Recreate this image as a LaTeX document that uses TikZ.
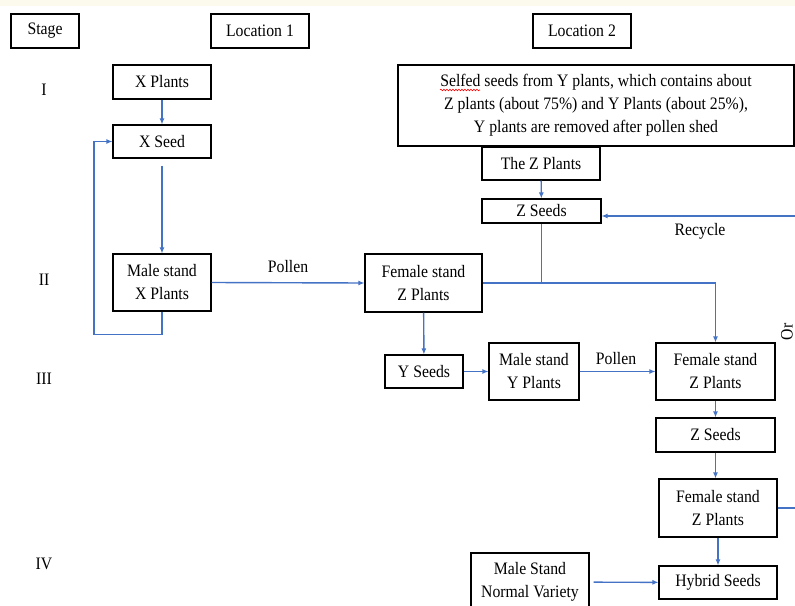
\documentclass[tikz,border=0pt]{standalone}
\usepackage{fontspec}
\setmainfont{Liberation Serif}[FakeStretch=0.9]
\usetikzlibrary{arrows.meta,decorations.pathmorphing}
\definecolor{flowblue}{RGB}{68,114,196}
\definecolor{topband}{RGB}{252,250,236}

\begin{document}
\begin{tikzpicture}[x=1pt, y=-1pt,
    every node/.style={font=\fontsize{17.5}{23}\selectfont},
    box/.style={draw, line width=1.1pt, inner sep=0pt, align=center},
    flow/.style={draw=flowblue, line width=1.4pt, -{Latex[length=6pt,width=5pt]}},
    link/.style={draw=flowblue, line width=1.4pt}]
  \clip (0,0) rectangle (795,605);
  % top band
  \fill[topband] (0,0) rectangle (795,6);
  % header boxes
  \node[box, minimum width=68pt, minimum height=34pt] (stage) at (45,31) {Stage};
  \node[box, minimum width=98pt, minimum height=34pt] (loc1) at (260,31) {Location 1};
  \node[box, minimum width=98pt, minimum height=34pt] (loc2) at (582,31) {Location 2};
  % stage numbers
  \node (stagei) at (44,90) {I};
  \node (stageii) at (44,280) {II};
  \node (stageiii) at (44,379) {III};
  \node (stageiv) at (44,564) {IV};
  % Location 1 boxes
  \node[box, minimum width=98pt, minimum height=34pt] (xplants) at (162,82) {X Plants};
  \node[box, minimum width=98pt, minimum height=33pt] (xseed) at (162,141.5) {X Seed};
  \node[box, minimum width=98pt, minimum height=57pt] (malex) at (162,282.5) {Male stand\\X Plants};
  % Location 2 boxes
  \node[box, minimum width=396pt, minimum height=81pt] (selfed) at (596,105.5)
    {Selfed seeds from Y plants, which contains about\\Z plants (about 75\%) and Y Plants (about 25\%),\\Y plants are removed after pollen shed};
  \node[box, minimum width=118pt, minimum height=33pt] (thez) at (541,163.5) {The Z Plants};
  \node[box, minimum width=119pt, minimum height=24pt] (zseeda) at (541.5,211) {Z Seeds};
  \node[box, minimum width=117pt, minimum height=58pt] (femza) at (423.5,283) {Female stand\\Z Plants};
  \node[box, minimum width=78pt, minimum height=33pt] (yseeds) at (424,371.5) {Y Seeds};
  \node[box, minimum width=90pt, minimum height=57pt] (maley) at (534,371.5) {Male stand\\Y Plants};
  \node[box, minimum width=119pt, minimum height=57pt] (femzb) at (715.5,371.5) {Female stand\\Z Plants};
  \node[box, minimum width=119pt, minimum height=34pt] (zseedb) at (715.5,435) {Z Seeds};
  \node[box, minimum width=118pt, minimum height=58pt] (femzc) at (718,508) {Female stand\\Z Plants};
  \node[box, minimum width=118pt, minimum height=33pt] (hybrid) at (718,582.5) {Hybrid Seeds};
  \node[box, minimum width=118pt, minimum height=58pt] (malenv) at (530,582) {Male Stand\\Normal Variety};
  % spell-check mark under Selfed
  \draw[red, line width=0.6pt, decorate, decoration={snake, amplitude=0.8pt, segment length=3pt}] (440,90) -- (480,90);
  % Location 1 arrows
  \draw[flow] (xplants) -- (xseed);
  \draw[flow, shorten <=7pt] (xseed) -- (malex);
  \draw[flow] (malex.south) |- ++(-68,23) |- (xseed.west);
  \draw[flow] (malex.east) -- (femza.west);
  \node (pollena) at (288,267) {Pollen};
  % Location 2 arrows
  \draw[flow] (thez) -- (zseeda);
  \coordinate (recyc) at (795,216);
  \draw[flow] (recyc) -- (recyc -| zseeda.east);
  \node (recyctext) at (700,231) {Recycle};
  \draw[link] (zseeda.south) -- (zseeda.south |- femza.east);
  \draw[flow] (femza.east) -| (femzb.north);
  \draw[flow] (femza) -- (yseeds);
  \draw[flow] (yseeds) -- (maley);
  \draw[flow] (maley) -- (femzb);
  \node (pollenb) at (616,359) {Pollen};
  \draw[flow] (femzb) -- (zseedb);
  \draw[flow] (zseedb.south) -- (zseedb.south |- femzc.north);
  \coordinate (orout) at (795,508);
  \draw[link] (femzc.east) -- (orout);
  \draw[flow] (femzc) -- (hybrid);
  \draw[flow, shorten <=4pt] (malenv) -- (hybrid);
  \node[rotate=90] (ortext) at (787,332) {Or};
\end{tikzpicture}
\end{document}
